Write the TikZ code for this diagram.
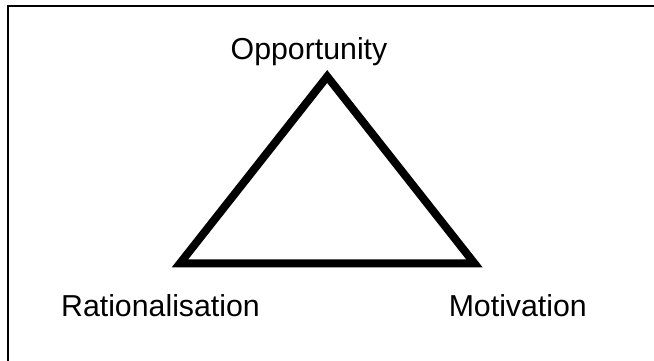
\documentclass[tikz,border=0pt]{standalone}
\usepackage{fontspec}
\setmainfont{Liberation Sans}
\tikzset{%
	caption/.style={inner sep=0pt, anchor=base, font=\fontsize{15.15}{18}\selectfont},
	side/.style={line width=4pt, line join=miter},
	frame/.style={line width=1.15pt}
}
\begin{document}
\begin{tikzpicture}[x=0.5pt, y=-0.5pt]
		\useasboundingbox (0,0) rectangle (654,360);
		\clip (0,0) rectangle (654,360);
		\draw [frame] (7.8,6) rectangle (680,390);
		\coordinate (apex) at (327.2,76.5);
		\coordinate (base-l) at (180,263.3);
		\coordinate (base-r) at (474.4,263.3);
		\node[caption] (opp) at (309,59.5) {Opportunity};
		\node[caption] (rat) at (160.5,316.7) {Rationalisation};
		\node[caption] (mot) at (517.8,316.7) {Motivation};
		\draw [side] (apex) -- (base-r) -- (base-l) -- cycle;
	\end{tikzpicture}
\end{document}
